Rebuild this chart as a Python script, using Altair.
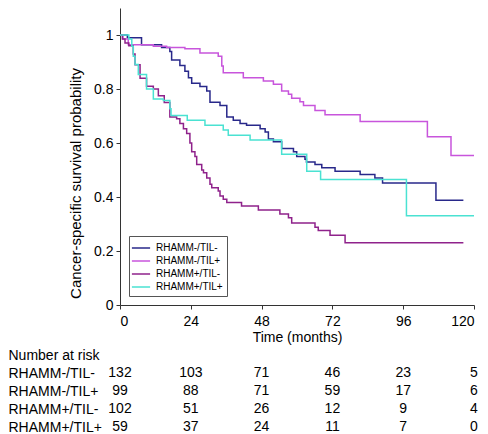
import altair as alt
import pandas as pd

FONT = "Liberation Sans"

groups = ["RHAMM-/TIL-", "RHAMM-/TIL+", "RHAMM+/TIL-", "RHAMM+/TIL+"]
colors = ["#28288a", "#c855dc", "#8f228b", "#4ae2d2"]

# Kaplan-Meier step points (time in months, survival probability)
t_nn = [0, 2.5, 7.3, 14.1, 16.9, 17.5, 20.3, 22.0, 23.2, 24.3, 27.1, 29.4, 30.5, 33.9,
        36.2, 38.4, 40.7, 42.9, 47.5, 49.2, 50.3, 52.0, 54.8, 58.8, 59.9, 62.7, 63.2,
        66.1, 68.4, 72.9, 81.4, 86.4, 89.0, 107.1, 116.4]
s_nn = [1.0, 0.99, 0.964, 0.954, 0.939, 0.907, 0.887, 0.866, 0.842, 0.821, 0.809, 0.793,
        0.751, 0.739, 0.696, 0.684, 0.672, 0.666, 0.653, 0.641, 0.615, 0.605, 0.58,
        0.568, 0.55, 0.54, 0.53, 0.52, 0.508, 0.495, 0.483, 0.47, 0.452, 0.388, 0.388]

t_np = [0, 1.0, 2.8, 11.3, 15.8, 22.0, 27.1, 33.3, 34.5, 35.0, 41.8, 48.6, 52.0, 54.8,
        57.1, 58.2, 61.0, 62.2, 66.1, 69.5, 81.4, 104.2, 112.2, 120]
s_np = [1.0, 0.985, 0.964, 0.958, 0.954, 0.949, 0.933, 0.921, 0.885, 0.86, 0.842, 0.83,
        0.818, 0.793, 0.781, 0.766, 0.753, 0.739, 0.72, 0.705, 0.68, 0.623, 0.554, 0.554]

t_pn = [0, 0.8, 1.7, 3.0, 4.5, 5.1, 6.8, 9.0, 11.3, 13.0, 15.0, 16.9, 19.2, 20.3, 21.5,
        22.6, 23.7, 24.3, 25.4, 26.0, 27.7, 28.3, 29.4, 30.5, 31.1, 33.3, 33.9, 35.0,
        36.2, 41.2, 46.9, 54.2, 57.1, 58.2, 66.1, 67.2, 71.2, 76.3, 116.4]
s_pn = [1.0, 0.985, 0.97, 0.96, 0.93, 0.89, 0.84, 0.81, 0.8, 0.775, 0.75, 0.696, 0.69,
        0.672, 0.653, 0.635, 0.6, 0.568, 0.55, 0.52, 0.5, 0.49, 0.47, 0.447, 0.434,
        0.422, 0.404, 0.392, 0.38, 0.367, 0.352, 0.337, 0.323, 0.304, 0.288, 0.276,
        0.258, 0.231, 0.231]

t_pp = [0, 3.0, 4.0, 4.5, 5.1, 6.2, 9.0, 11.3, 14.7, 16.9, 17.3, 22.8, 28.8, 35.0, 36.7,
        44.1, 54.8, 63.3, 68.0, 97.1, 120]
s_pp = [1.0, 0.985, 0.958, 0.921, 0.891, 0.854, 0.8, 0.763, 0.757, 0.727, 0.702, 0.684,
        0.666, 0.648, 0.629, 0.611, 0.558, 0.495, 0.465, 0.331, 0.331]

risk_times = [0, 24, 48, 72, 96, 120]
risk_nn = [132, 103, 71, 46, 23, 5]
risk_np = [99, 88, 71, 59, 17, 6]
risk_pn = [102, 51, 26, 12, 9, 4]
risk_pp = [59, 37, 24, 11, 7, 0]

header = "Number at risk"

# ---- build tables ----
rows = []
for g, ts, ss in zip(groups, [t_nn, t_np, t_pn, t_pp], [s_nn, s_np, s_pn, s_pp]):
    for t, s in zip(ts, ss):
        rows.append({"group": g, "t": t, "s": s})
km_df = pd.DataFrame(rows)

trows = []
for g, ns in zip(groups, [risk_nn, risk_np, risk_pn, risk_pp]):
    for t, n in zip(risk_times, ns):
        trows.append({"group": g, "t": t, "n": n})
risk_df = pd.DataFrame(trows)

x_ticks = [0, 24, 48, 72, 96, 120]
y_ticks = [0, 0.2, 0.4, 0.6, 0.8, 1]

km = alt.Chart(km_df).mark_line(interpolate="step-after", strokeWidth=1.5).encode(
    x=alt.X("t:Q", scale=alt.Scale(domain=[0, 120], nice=False, zero=False),
            axis=alt.Axis(values=x_ticks, title="Time (months)", grid=False,
                          labelFontSize=14, titleFontSize=14, titleFontWeight="normal",
                          tickSize=4, labelPadding=5, titlePadding=2,
                          domainColor="#333", tickColor="#333",
                          labelColor="#000", titleColor="#000")),
    y=alt.Y("s:Q", scale=alt.Scale(domain=[0, 1.1], nice=False),
            axis=alt.Axis(values=y_ticks, format="~g",
                          title="Cancer-specific survival probability", grid=False,
                          labelFontSize=14, titleFontSize=15, titleFontWeight="normal",
                          tickSize=4, labelPadding=3, titleX=-37, titleY=175,
                          domainColor="#333", tickColor="#333",
                          labelColor="#000", titleColor="#000")),
    color=alt.Color("group:N", scale=alt.Scale(domain=groups, range=colors),
                    legend=alt.Legend(title=None, orient="none", legendX=9, legendY=228,
                                      strokeColor="#555", fillColor="white", padding=4,
                                      rowPadding=0, symbolType="M-1.3,0H1.3",
                                      symbolSize=196, symbolStrokeWidth=1.5,
                                      labelFontSize=10, labelOffset=7,
                                      labelColor="#000", labelFont=FONT)),
).properties(width=354, height=297)

table = alt.Chart(risk_df).mark_text(fontSize=14, font=FONT, color="black",
                                     baseline="middle", align="center").encode(
    x=alt.X("t:Q", scale=alt.Scale(domain=[0, 120], nice=False, zero=False), axis=None),
    y=alt.Y("group:N", scale=alt.Scale(domain=[header] + groups),
            axis=alt.Axis(title=None, labelAlign="left", labelPadding=112, ticks=False,
                          domain=False, labelFontSize=14, labelColor="black",
                          labelLimit=0, grid=False)),
    text="n:Q",
).properties(width=354, height=alt.Step(18))

chart = alt.vconcat(km, table, spacing=2).resolve_scale(
    x="independent", y="independent", color="independent"
).properties(padding=0).configure_view(stroke=None).configure_axis(
    labelFont=FONT, titleFont=FONT
).configure_text(font=FONT)

chart.save("out.html", embed_options={"renderer": "svg", "actions": False})
